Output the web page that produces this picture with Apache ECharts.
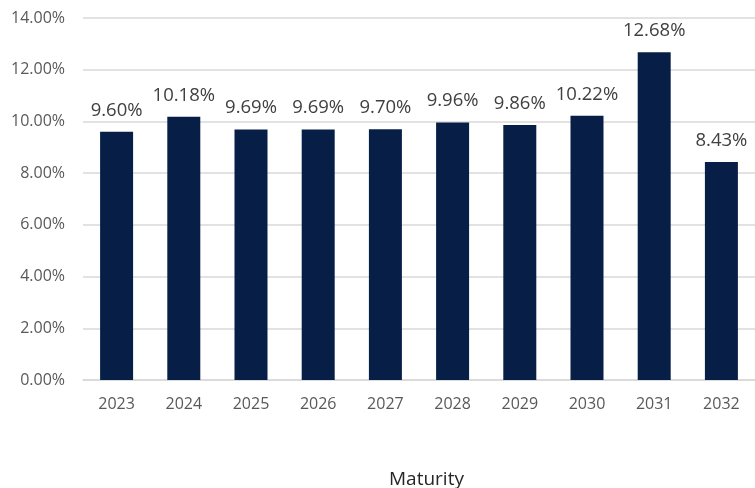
<!DOCTYPE html>
<html>
<head>
<meta charset="utf-8">
<script src="https://cdn.jsdelivr.net/npm/echarts@6/dist/echarts.min.js"></script>
<style>
  html, body { margin: 0; padding: 0; background: #fff; }
  #chart { width: 755px; height: 488px; }
</style>
</head>
<body>
<div id="chart"></div>
<script>
// Maturity years and their yields (percent)
const years = ['2023', '2024', '2025', '2026', '2027', '2028', '2029', '2030', '2031', '2032'];
const yields = [9.60, 10.18, 9.69, 9.69, 9.70, 9.96, 9.86, 10.22, 12.68, 8.43];
const axisTitle = 'Maturity';

const font = '"Open Sans", Lato, sans-serif';
const chart = echarts.init(document.getElementById('chart'), null, { renderer: 'canvas' });

chart.setOption({
  animation: false,
  textStyle: { fontFamily: font },
  grid: { left: 83, top: 18, width: 680, height: 362, containLabel: false },
  xAxis: {
    type: 'category',
    data: years,
    axisLine: { lineStyle: { color: '#d9d9d9', width: 1.5 } },
    axisTick: { show: false },
    axisLabel: { color: '#595959', fontSize: 16, margin: 16, fontFamily: font }
  },
  yAxis: {
    type: 'value',
    min: 0,
    max: 14,
    interval: 2,
    axisLine: { show: false },
    axisTick: { show: false },
    splitLine: { lineStyle: { color: '#d9d9d9', width: 1.5 } },
    axisLabel: {
      color: '#595959', fontSize: 16, margin: 18, fontFamily: font,
      formatter: v => v.toFixed(2) + '%'
    }
  },
  series: [{
    type: 'bar',
    data: yields,
    barWidth: 33,
    itemStyle: { color: '#071f47' },
    label: {
      show: true,
      position: 'top',
      distance: 12,
      color: '#404040',
      fontSize: 18.5,
      fontFamily: font,
      formatter: p => p.value.toFixed(2) + '%'
    }
  }],
  graphic: [{
    type: 'text',
    left: 389,
    top: 470,
    style: { text: axisTitle, fill: '#262626', fontSize: 19, fontFamily: font }
  }]
});
</script>
</body>
</html>
